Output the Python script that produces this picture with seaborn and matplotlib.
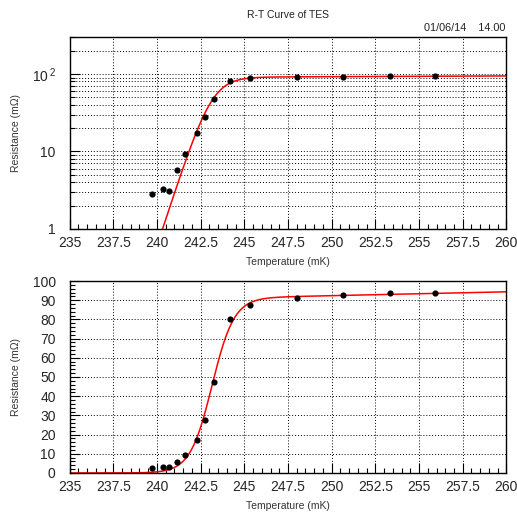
import numpy as np
import pandas as pd
import matplotlib
matplotlib.use("Agg")
import matplotlib.pyplot as plt
import matplotlib.ticker as mticker
import seaborn as sns

# Measured transition points
temperature_mk = [239.70, 240.36, 240.69, 241.15, 241.61, 242.30, 242.76,
                  243.28, 244.20, 245.34, 248.03, 250.63, 253.36, 255.92]
resistance_mohm = [2.85, 3.25, 3.05, 5.8, 9.2, 17.4, 27.5,
                   47.3, 80.3, 87.5, 91.3, 92.5, 93.6, 93.9]

# Fitted transition model: sigmoid with slowly rising normal branch
fit_tc = 243.15
fit_width = 0.63
fit_rn = 91.0
fit_slope = 0.2

x_ticks = [235, 237.5, 240, 242.5, 245, 247.5, 250, 252.5, 255, 257.5, 260]
x_labels = ["235", "237.5", "240", "242.5", "245", "247.5", "250",
            "252.5", "255", "257.5", "260"]

sns.set_style("ticks")
plt.rcParams["font.family"] = ["Liberation Sans", "DejaVu Sans"]

points = pd.DataFrame({"T": temperature_mk, "R": resistance_mohm})
t_fit = np.linspace(235, 260, 1200)
r_fit = (fit_rn + fit_slope * (t_fit - fit_tc)) / (1 + np.exp(-(t_fit - fit_tc) / fit_width))
curve = pd.DataFrame({"T": t_fit, "R": r_fit})

fig = plt.figure(figsize=(5.17, 5.14), dpi=100)
ax_log = fig.add_axes([0.1346, 0.5545, 0.8449, 0.3735])
ax_lin = fig.add_axes([0.1346, 0.0798, 0.8449, 0.3735])

axes_center = 0.1346 + 0.8449 / 2
fig.text(axes_center, 0.970, "R-T Curve of TES", ha="center", va="center",
         fontsize=7.5, color="#222222")
fig.text(0.977, 0.945, "01/06/14    14.00", ha="right", va="center",
         fontsize=7.8, color="#222222")

grid_kw = dict(color="black", linestyle=(0, (1, 2)), linewidth=0.7)

for ax in (ax_log, ax_lin):
    sns.lineplot(data=curve, x="T", y="R", ax=ax, color="red", linewidth=1.1, sort=False)
    sns.scatterplot(data=points, x="T", y="R", ax=ax, color="black", s=20,
                    edgecolor="black", linewidth=0, zorder=5)
    ax.set_xlim(235, 260)
    ax.set_xticks(x_ticks)
    ax.set_xticklabels(x_labels)
    ax.xaxis.set_minor_locator(mticker.MultipleLocator(0.5))
    ax.tick_params(axis="both", which="both", direction="in", top=False, right=False,
                   labelsize=10, color="black", width=0.8)
    ax.tick_params(axis="x", which="both", pad=5)
    ax.tick_params(axis="y", which="both", pad=10)
    ax.tick_params(axis="both", which="major", length=7)
    ax.tick_params(axis="both", which="minor", length=3.5)
    for sp in ax.spines.values():
        sp.set_linewidth(1.0)
        sp.set_color("black")
    ax.set_xlabel("Temperature (mK)", fontsize=7.5, color="#333333", labelpad=5)
    ax.set_ylabel("Resistance (m\u03a9)", fontsize=7.5, color="#333333", labelpad=8)
    ax.set_axisbelow(True)

# Logarithmic panel
ax_log.set_yscale("log")
ax_log.set_ylim(1, 300)
ax_log.yaxis.set_major_locator(mticker.FixedLocator([1, 10, 100]))
ax_log.yaxis.set_major_formatter(mticker.FixedFormatter(["1", "10", r"$\mathregular{10^{\,2}}$"]))
ax_log.yaxis.set_minor_locator(mticker.LogLocator(base=10, subs=np.arange(2, 10)))
ax_log.yaxis.set_minor_formatter(mticker.NullFormatter())
ax_log.grid(True, which="major", axis="x", **grid_kw)
ax_log.grid(True, which="both", axis="y", **grid_kw)

# Linear panel
ax_lin.set_ylim(0, 100)
ax_lin.yaxis.set_major_locator(mticker.MultipleLocator(10))
ax_lin.yaxis.set_minor_locator(mticker.MultipleLocator(2))
ax_lin.grid(True, which="major", axis="both", **grid_kw)

fig.savefig("out.png", dpi=100)
